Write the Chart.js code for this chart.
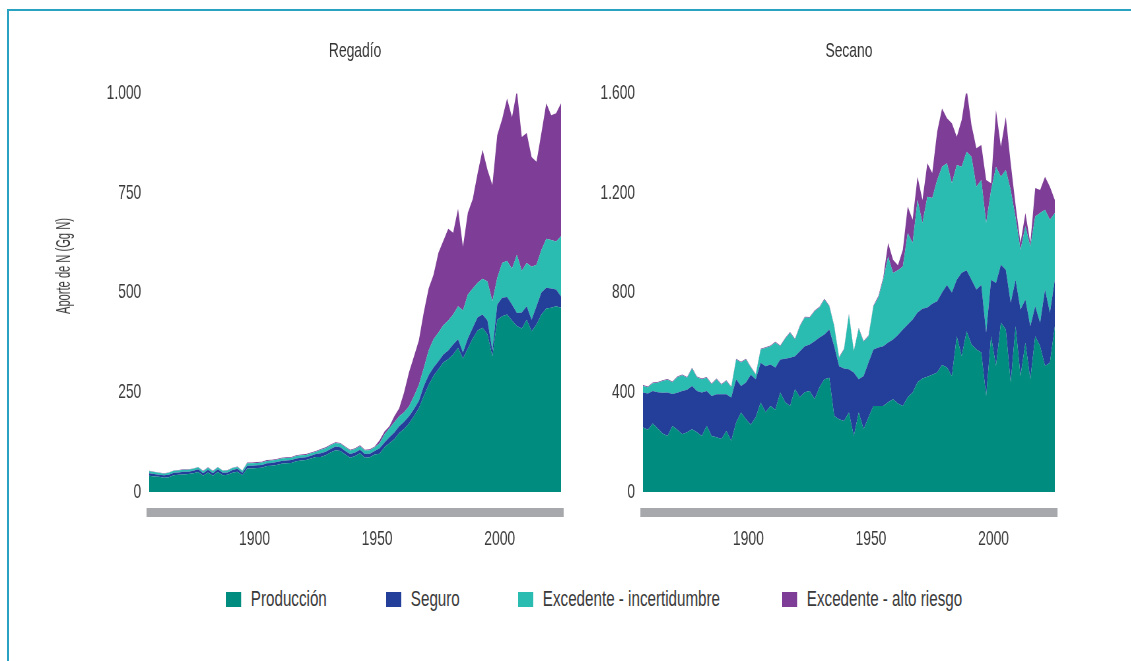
<!DOCTYPE html>
<html>
<head>
<meta charset="utf-8">
<script src="https://cdn.jsdelivr.net/npm/chart.js@4.4.1/dist/chart.umd.min.js"></script>
<style>
  body { margin: 0; width: 1131px; height: 661px; position: relative; overflow: hidden; background: #fff;
         font-family: 'Liberation Sans', Arial, sans-serif; color: #3a3a3a; }
  .frame { position: absolute; left: 7px; top: 9px; width: 1200px; height: 700px;
           border-left: 2px solid #2aa3c3; border-top: 2px solid #2aa3c3; }
  /* canvases are drawn wide and squeezed to get a condensed look for the text */
  canvas { position: absolute; top: 0; transform-origin: 0 0; transform: scaleX(0.66); }
  #regadio { left: 0; }
  #secano { left: 575px; }
  .ytitle { position: absolute; left: 63px; top: 266px; white-space: nowrap; font-size: 21px;
            transform: translate(-50%, -50%) rotate(-90deg) scaleX(0.53); }
  .item { position: absolute; top: 588px; white-space: nowrap; font-size: 22px; line-height: 22px;
          transform-origin: 0 0; transform: scaleX(0.69); }
  .item .box { display: inline-block; width: 22px; height: 15px; margin-right: 14px; vertical-align: -1px; }
</style>
</head>
<body>
<div class="frame"></div>
<canvas id="regadio" width="871" height="560"></canvas>
<canvas id="secano" width="842" height="560"></canvas>
<div class="ytitle">Aporte de N (Gg N)</div>
<div id="legend"></div>
<script>
// years (every second year)
const years = [1857, 1859, 1861, 1863, 1865, 1867, 1869, 1871, 1873, 1875, 1877, 1879, 1881, 1883, 1885, 1887, 1889, 1891, 1893, 1895,
  1897, 1899, 1901, 1903, 1905, 1907, 1909, 1911, 1913, 1915, 1917, 1919, 1921, 1923, 1925, 1927, 1929, 1931, 1933, 1935,
  1937, 1939, 1941, 1943, 1945, 1947, 1949, 1951, 1953, 1955, 1957, 1959, 1961, 1963, 1965, 1967, 1969, 1971, 1973, 1975,
  1977, 1979, 1981, 1983, 1985, 1987, 1989, 1991, 1993, 1995, 1997, 1999, 2001, 2003, 2005, 2007, 2009, 2011, 2013, 2015,
  2017, 2019, 2021, 2023, 2025];
const xTicks = [1900, 1950, 2000];

const seriesNames = ['Producción', 'Seguro', 'Excedente - incertidumbre', 'Excedente - alto riesgo'];
const seriesColors = ['#008c7e', '#233f99', '#2abcb0', '#7e3d96'];

// Regadío (Gg N)
const regProd = [41, 39, 38, 36, 37, 42, 43, 44, 45, 47, 50, 41, 49, 41, 50, 42, 43, 48, 51, 42,
  59, 59, 60, 61, 65, 66, 68, 71, 72, 73, 77, 79, 80, 84, 88, 88, 92, 99, 105, 103,
  94, 86, 90, 97, 86, 87, 94, 96, 112, 122, 132, 148, 158, 172, 190, 210, 240, 268, 291, 308,
  325, 333, 345, 362, 335, 360, 385, 405, 412, 395, 340, 432, 441, 445, 430, 416, 410, 432, 403, 420,
  445, 460, 462, 466, 462];
const regSeg = [6, 6, 5, 6, 6, 6, 6, 7, 6, 6, 7, 6, 7, 6, 7, 6, 6, 7, 7, 6,
  7, 7, 7, 7, 7, 7, 7, 7, 7, 7, 7, 7, 7, 7, 7, 9, 9, 9, 9, 9,
  9, 9, 9, 9, 9, 9, 9, 14, 12, 15, 17, 17, 18, 18, 18, 18, 25, 25, 21, 20,
  20, 22, 25, 21, 15, 25, 27, 33, 33, 35, 15, 38, 46, 44, 40, 33, 40, 34, 29, 46,
  55, 52, 48, 42, 28];
const regInc = [5, 5, 5, 4, 5, 5, 5, 5, 5, 5, 5, 5, 5, 5, 5, 5, 5, 5, 5, 5,
  6, 6, 6, 6, 6, 6, 6, 6, 6, 6, 6, 6, 6, 6, 6, 9, 9, 9, 9, 9,
  9, 9, 9, 9, 9, 9, 9, 12, 21, 23, 26, 25, 24, 25, 32, 40, 45, 62, 71, 72,
  73, 75, 75, 83, 105, 110, 98, 87, 90, 98, 123, 67, 87, 91, 90, 146, 105, 108, 133, 104,
  107, 123, 122, 120, 151];
const regAlto = [1, 1, 1, 1, 1, 1, 1, 1, 1, 1, 1, 1, 1, 1, 1, 1, 1, 1, 1, 1,
  2, 2, 2, 2, 2, 2, 2, 2, 2, 2, 2, 2, 2, 2, 2, 2, 2, 2, 2, 2,
  2, 2, 2, 2, 2, 2, 2, 8, 7, 5, 15, 20, 50, 85, 100, 112, 140, 155, 162, 200,
  212, 230, 205, 244, 160, 205, 225, 275, 323, 280, 292, 358, 361, 407, 380, 412, 335, 326, 275, 258,
  293, 340, 313, 322, 334];

// Secano (Gg N)
const secProd = [259, 250, 275, 255, 235, 225, 265, 250, 232, 240, 252, 240, 225, 266, 225, 220, 213, 245, 206, 279,
  319, 292, 270, 300, 359, 320, 345, 330, 399, 360, 345, 412, 380, 400, 405, 372, 420, 452, 458, 305,
  292, 285, 319, 225, 319, 252, 300, 345, 345, 345, 360, 372, 355, 345, 380, 399, 440, 455, 462, 470,
  479, 510, 500, 465, 625, 545, 645, 592, 572, 560, 385, 625, 506, 679, 652, 439, 665, 465, 599, 452,
  625, 585, 506, 519, 665];
const secSeg = [140, 145, 130, 145, 163, 174, 128, 148, 173, 170, 173, 165, 174, 139, 160, 172, 179, 147, 173, 173,
  106, 147, 200, 152, 160, 185, 167, 170, 133, 175, 194, 133, 185, 185, 187, 233, 200, 180, 194, 280,
  213, 210, 173, 254, 133, 213, 220, 227, 235, 240, 240, 240, 275, 307, 292, 293, 280, 280, 278, 285,
  286, 290, 330, 335, 227, 335, 245, 260, 240, 270, 254, 227, 333, 233, 240, 320, 187, 267, 173, 213,
  120, 94, 306, 200, 187];
const secInc = [26, 25, 31, 38, 47, 51, 47, 62, 63, 48, 70, 55, 53, 53, 47, 60, 38, 53, 41, 80,
  95, 93, 30, 18, 53, 73, 73, 100, 53, 80, 100, 67, 100, 115, 107, 120, 120, 140, 93, 80,
  34, 77, 220, 86, 204, 138, 105, 173, 199, 267, 345, 267, 260, 253, 367, 307, 452, 344, 445, 425,
  487, 505, 489, 439, 460, 425, 475, 493, 413, 422, 440, 360, 466, 353, 400, 453, 248, 240, 294, 320,
  360, 440, 320, 373, 267];
const secAlto = [4, 3, 3, 3, 3, 3, 3, 3, 3, 3, 3, 3, 3, 3, 3, 3, 3, 3, 3, 3,
  3, 3, 3, 3, 3, 3, 3, 3, 3, 3, 3, 3, 3, 3, 3, 3, 3, 3, 3, 3,
  3, 3, 3, 3, 3, 3, 3, 3, 6, 8, 54, 53, 20, 67, 106, 93, 93, 93, 134, 100,
  193, 234, 180, 240, 113, 187, 254, 127, 154, 140, 173, 27, 227, 120, 213, 107, 50, 27, 53, 14,
  115, 93, 133, 133, 53];

Chart.defaults.font.family = "'Liberation Sans', Arial, sans-serif";
Chart.defaults.color = '#3a3a3a';

// gray band under each plot
const axisBar = {
  id: 'axisBar',
  beforeDraw(chart) {
    const { ctx, chartArea, scales } = chart;
    ctx.save();
    ctx.fillStyle = '#a7a8ab';
    ctx.fillRect(scales.x.left - 4, chartArea.bottom + 16, scales.x.right - scales.x.left + 8, 9);
    ctx.restore();
  }
};

function makeChart(id, title, values, yMax, yStep, yWidth, padRight) {
  const ctx = document.getElementById(id).getContext('2d');
  return new Chart(ctx, {
    type: 'line',
    data: {
      labels: years,
      datasets: values.map((v, i) => ({
        label: seriesNames[i],
        data: v,
        backgroundColor: seriesColors[i],
        borderWidth: 0,
        pointRadius: 0,
        fill: i === 0 ? 'origin' : '-1',
      })),
    },
    options: {
      responsive: false,
      animation: false,
      layout: { padding: { top: 20, left: 0, right: padRight, bottom: 8 } },
      plugins: {
        legend: { display: false },
        tooltip: { enabled: false },
        title: {
          display: true,
          text: title,
          fullSize: false,
          color: '#333',
          font: { size: 21, weight: 'normal' },
          padding: { top: 19, bottom: 29 },
        },
      },
      scales: {
        x: {
          type: 'linear',
          min: 1857,
          max: 2025,
          grid: { display: false, drawTicks: false },
          border: { display: false },
          afterBuildTicks: (s) => { s.ticks = xTicks.map((v) => ({ value: v })); },
          afterFit: (s) => { s.height = 60; },
          ticks: { padding: 35, font: { size: 21 }, callback: (v) => String(v) },
        },
        y: {
          stacked: true,
          min: 0,
          max: yMax,
          grid: { display: false, drawTicks: false },
          border: { display: false },
          afterFit: (s) => { s.width = yWidth; },
          ticks: {
            stepSize: yStep,
            padding: 12,
            font: { size: 21 },
            callback: (v) => v.toLocaleString('de-DE'),
          },
        },
      },
    },
    plugins: [axisBar],
  });
}

makeChart('regadio', 'Regadío', [regProd, regSeg, regInc, regAlto], 1000, 250, 226, 21);
makeChart('secano', 'Secano', [secProd, secSeg, secInc, secAlto], 1600, 400, 103, 115);

// shared legend
const legendLeft = [226, 386, 518, 782];
const legend = document.getElementById('legend');
seriesNames.forEach((name, i) => {
  const item = document.createElement('div');
  item.className = 'item';
  item.style.left = legendLeft[i] + 'px';
  item.innerHTML = '<span class="box" style="background:' + seriesColors[i] + '"></span>' + name;
  legend.appendChild(item);
});
</script>
</body>
</html>
